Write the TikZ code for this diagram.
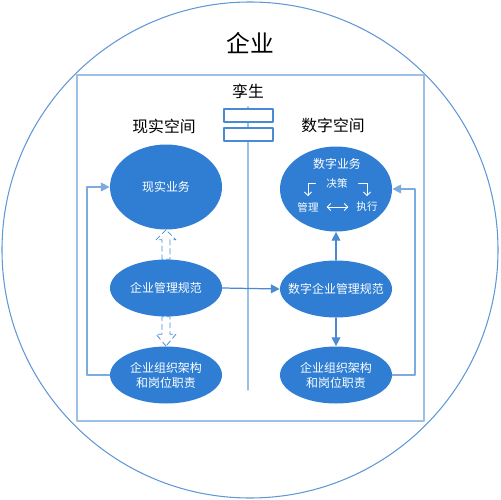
\documentclass[tikz,border=0pt]{standalone}
\usepackage{fontspec}
\setmainfont{Noto Sans CJK SC}
\usetikzlibrary{arrows.meta,calc,positioning,shapes.geometric}
\definecolor{twinblue}{RGB}{47,126,211}
\definecolor{twinline}{RGB}{74,138,212}
\definecolor{twinframe}{RGB}{157,193,230}
\definecolor{twinring}{RGB}{96,152,214}

\begin{document}
\begin{tikzpicture}[x=0.02cm,y=-0.02cm,line cap=round,line join=round,
 blob/.style={ellipse,fill=twinblue,draw=none,minimum width=112*0.02cm,
  minimum height=57*0.02cm,inner xsep=-6pt,inner ysep=0pt,text=white,
  font=\fontsize{6.8}{8.6}\selectfont,align=center},
 conn/.style={twinline,line width=0.7pt,-{Triangle[length=5pt,width=5pt]}},
 hollow/.style={twinline,densely dashed,line width=0.45pt},
 small/.style={text=white,font=\fontsize{6}{7}\selectfont,inner sep=1pt}]
\useasboundingbox (0,0) rectangle (500,500);
% Ring and frame of the enterprise
\draw[twinring,line width=0.6pt] (250,250) circle (248*0.02cm);
\node[font=\fontsize{13.5}{15}\selectfont] (ent) at (250,43) {企业};
\draw[twinframe,line width=1.1pt] (77,75) rectangle (424,421);
% Twin axis with its two boxes
\node[font=\fontsize{9}{11}\selectfont] (twin) at (248,91) {孪生};
\draw[twinframe,line width=1pt] (248,107) -- (248,390);
\draw[twinline,fill=white,line width=0.6pt] (224,109) rectangle (273,122);
\draw[twinline,fill=white,line width=0.6pt] (224,128) rectangle (273,141);
\node[font=\fontsize{9}{11}\selectfont] (realS) at (164,126) {现实空间};
\node[font=\fontsize{9}{11}\selectfont] (digS) at (333,125) {数字空间};
% Real side
\node[blob,minimum height=85*0.02cm] (realB) at (166,187) {现实业务};
\node[blob] (mgmtL) at (166,288) {企业管理规范};
\node[blob] (orgL) at (166,375) {企业组织架构\\和岗位职责};
% Digital side
\node[blob,minimum height=85*0.02cm] (digB) at (336,189) {};
\node[blob] (mgmtR) at (336,289) {数字企业管理规范};
\node[blob] (orgR) at (336,375) {企业组织架构\\和岗位职责};
\node[small,font=\fontsize{6.8}{8}\selectfont] (digT) at (337,164) {数字业务};
\node[small] (dec) at (337,183) {决策};
\node[small] (mgt) at (308,207) {管理};
\node[small] (exe) at (367,207) {执行};
\draw[white,line width=0.5pt,{Straight Barb[length=2pt]}-{Straight Barb[length=2pt]}]
 (mgt.east) ++(6,0) -- ($(exe.west)+(-6,0)$);
\draw[white,line width=0.5pt,-{Straight Barb[length=2pt]}]
 ($(dec.west)+(-9,0)$) -| ($(mgt.north)+(0,-4)$);
\draw[white,line width=0.5pt,-{Straight Barb[length=2pt]}]
 ($(dec.east)+(9,0)$) -| ($(exe.north)+(0,-4)$);
% Hollow dashed arrows between the real layers
\draw[hollow] (realB.south) -- ++(-10,10) -- ++(6,0) |- ($(mgmtL.north)+(4,0)$)
 |- ($(realB.south)+(4,10)$) -- ++(6,0) -- cycle;
\draw[hollow] (orgL.north) -- ++(-10,-12) -- ++(6,0) |- ($(mgmtL.south)+(4,0)$)
 |- ($(orgL.north)+(4,-12)$) -- ++(6,0) -- cycle;
% Connectors
\draw[conn] (mgmtL.east) -- (mgmtR.west);
\draw[conn] (mgmtR.north) -- (digB.south);
\draw[conn] (mgmtR.south) -- (orgR.north);
\draw[conn,twinframe!60!twinline] (orgL.west) -| (87,187) -- (realB.west);
\draw[conn,twinframe!60!twinline] (orgR.east) -| (415,189) -- (digB.east);
\end{tikzpicture}
\end{document}
